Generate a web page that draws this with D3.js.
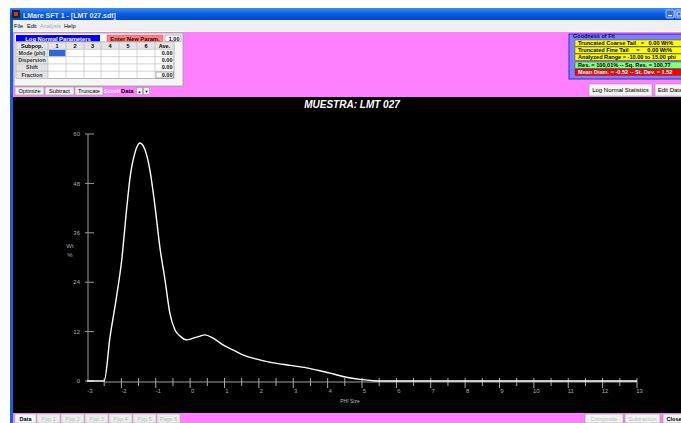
<!DOCTYPE html>
<html><head><meta charset="utf-8">
<script src="https://cdn.jsdelivr.net/npm/d3@7"></script>
<style>
html,body{margin:0;padding:0;background:#fff;overflow:hidden}
svg{display:block}
text{font-family:"Liberation Sans",Arial,sans-serif}
</style></head>
<body>
<script>
// ---- data ----
const phi = [-3, -2.5, -2.33, -2.14, -1.99, -1.85, -1.75, -1.6, -1.46, -1.31, -1.17, -1.02, -0.88, -0.73, -0.59, -0.44, -0.29, -0.1, 0.09, 0.29, 0.43, 0.67, 0.97, 1.26, 1.55, 1.94, 2.42, 2.91, 3.39, 3.78, 4.17, 4.55, 4.94, 5.33, 5.6, 13];
const wt  = [0, 0, 10.7, 20.5, 29.4, 41.5, 49.3, 55.6, 57.8, 56.1, 51.2, 42.3, 32.5, 24.5, 16.5, 12.4, 10.9, 10.0, 10.4, 10.9, 11.2, 10.4, 8.7, 7.5, 6.3, 5.3, 4.4, 3.8, 3.2, 2.5, 1.7, 0.9, 0.4, 0.07, 0, 0];
const yTicks = [0, 12, 24, 36, 48, 60];
const xMajor = [-3,-2,-1,0,1,2,3,4,5,6,7,8,9,10,11,12,13];
const xMinor = [-2.5,-1.5,-0.5,0.5,1.5,2.5,3.5,4.5,5.5,6.5,7.5,8.5,9.5,10.5,11.5,12.5];
const chartTitle = "MUESTRA: LMT 027";
const xLabel = "PHI Size";
const paramCols = ["Subpop.","1","2","3","4","5","6","Ave."];
const paramRows = ["Mode (phi)","Dispersion","Shift","Fraction"];
const paramAve = ["0.00","0.00","0.00","0.00"];
const fitRows = [
  {t:"Truncated Coarse Tail   =   0.00 Wt%", c:"#ffff00", f:"#000"},
  {t:"Truncated Fine Tail     =     0.00 Wt%", c:"#ffff00", f:"#000"},
  {t:"Analyzed Range = -10.00 to 15.00 phi", c:"#ffff00", f:"#000"},
  {t:"Res. = 100,01% -- Sq. Res. = 100,77", c:"#80ff80", f:"#000"},
  {t:"Mean Diam. = -0.52 -- St. Dev. = 1.52", c:"#ff0000", f:"#fff"}
];
const tabs = ["Data","Pop 1","Pop 2","Pop 3","Pop 4","Pop 5","Page 6"];
const menus = ["File","Edit","Analysis","Help"];

const W = 681, H = 423;
const svg = d3.select("body").append("svg").attr("width", W).attr("height", H);
const defs = svg.append("defs");
const g1 = defs.append("linearGradient").attr("id","tb").attr("x1",0).attr("y1",0).attr("x2",0).attr("y2",1);
g1.append("stop").attr("offset","0").attr("stop-color","#3a8cff");
g1.append("stop").attr("offset","0.5").attr("stop-color","#0a5ce0");
g1.append("stop").attr("offset","1").attr("stop-color","#0048c8");

// window frame
svg.append("rect").attr("x",0).attr("y",0).attr("width",W).attr("height",H).attr("fill","#fff");
svg.append("rect").attr("x",10).attr("y",8).attr("width",W-10).attr("height",H-8).attr("fill","#1f5fd8");
svg.append("rect").attr("x",10).attr("y",8).attr("width",W-10).attr("height",12).attr("fill","url(#tb)");
svg.append("rect").attr("x",12).attr("y",10).attr("width",8).attr("height",8).attr("fill","#222");
svg.append("rect").attr("x",14).attr("y",12).attr("width",4).attr("height",4).attr("fill","#c33");
svg.append("text").attr("x",23).attr("y",17.5).attr("font-size",7).attr("font-weight","bold").attr("fill","#dfe8ff").text("LMare SFT 1 - [LMT 027.sdt]");
[666,675].forEach(bx=>{
  svg.append("rect").attr("x",bx).attr("y",10).attr("width",8).attr("height",8).attr("rx",1).attr("fill","#2f6fe8").attr("stroke","#fff").attr("stroke-width",0.6);
});
svg.append("rect").attr("x",668).attr("y",15).attr("width",4).attr("height",1.2).attr("fill","#fff");
svg.append("rect").attr("x",677).attr("y",12).attr("width",4).attr("height",4).attr("fill","none").attr("stroke","#fff").attr("stroke-width",0.8);

// menu bar
svg.append("rect").attr("x",13).attr("y",20).attr("width",W-13).attr("height",11).attr("fill","#efefef");
const menuX = [14,27,40,64];
menus.forEach((m,i)=>{
  svg.append("text").attr("x",menuX[i]).attr("y",27.8).attr("font-size",5.6).attr("fill",i===2?"#aaa":"#000").text(m);
});

// pink area
svg.append("rect").attr("x",13).attr("y",31).attr("width",W-13).attr("height",H-31).attr("fill","#ff80ff");
svg.append("line").attr("x1",13).attr("x2",W).attr("y1",31.5).attr("y2",31.5).attr("stroke","#fff");

// parameter panel
const pp = svg.append("g");
pp.append("rect").attr("x",14).attr("y",33).attr("width",169).attr("height",53).attr("fill","#f6f6f6").attr("stroke","#999").attr("stroke-width",0.8);
pp.append("rect").attr("x",16).attr("y",35).attr("width",84).attr("height",6.5).attr("fill","#0000ff");
pp.append("text").attr("x",58).attr("y",40.5).attr("text-anchor","middle").attr("font-size",5.8).attr("font-weight","bold").attr("fill","#fff").text("Log Normal Parameters");
pp.append("rect").attr("x",107).attr("y",35).attr("width",56).attr("height",6.5).attr("fill","#ff8080").attr("stroke","#c44").attr("stroke-width",0.4);
pp.append("text").attr("x",135).attr("y",40.5).attr("text-anchor","middle").attr("font-size",5.8).attr("font-weight","bold").attr("fill","#400").text("Enter New Param.");
pp.append("rect").attr("x",165).attr("y",35).attr("width",16).attr("height",6.5).attr("fill","#fff").attr("stroke","#777").attr("stroke-width",0.5);
pp.append("text").attr("x",179.5).attr("y",40.5).attr("text-anchor","end").attr("font-size",5.5).attr("font-weight","bold").text("1.00");
const colX = [16,48,66,84,101,119,137,155,174];
const rowY = [42,49.3,56.6,63.9,71.2,78.5];
pp.append("rect").attr("x",16).attr("y",42).attr("width",158).attr("height",36.5).attr("fill","#fff").attr("stroke","#999").attr("stroke-width",0.5);
pp.append("rect").attr("x",16).attr("y",42).attr("width",32).attr("height",36.5).attr("fill","#e4e4e4");
pp.append("rect").attr("x",16).attr("y",42).attr("width",158).attr("height",7.3).attr("fill","#e4e4e4");
pp.append("rect").attr("x",49).attr("y",49.8).attr("width",16.5).attr("height",6.5).attr("fill","#3366dd");
colX.forEach(x=>pp.append("line").attr("x1",x).attr("x2",x).attr("y1",42).attr("y2",78.5).attr("stroke","#aaa").attr("stroke-width",0.5));
rowY.forEach(y=>pp.append("line").attr("x1",16).attr("x2",174).attr("y1",y).attr("y2",y).attr("stroke","#aaa").attr("stroke-width",0.5));
paramCols.forEach((c,i)=>{
  pp.append("text").attr("x",(colX[i]+colX[i+1])/2).attr("y",47.6).attr("text-anchor","middle").attr("font-size",5.5).attr("font-weight","bold").text(c);
});
paramRows.forEach((r,i)=>{
  pp.append("text").attr("x",32).attr("y",rowY[i+1]+5.5).attr("text-anchor","middle").attr("font-size",5.3).attr("font-weight","bold").attr("fill","#333").text(r);
  pp.append("text").attr("x",172.5).attr("y",rowY[i+1]+5.5).attr("text-anchor","end").attr("font-size",5.5).attr("font-weight","bold").text(paramAve[i]);
});
pp.append("rect").attr("x",156).attr("y",72).attr("width",17.5).attr("height",6).attr("fill","none").attr("stroke","#666").attr("stroke-width",0.5);

// buttons
function btn(x,y,w,h,t,opts={}){
  svg.append("rect").attr("x",x).attr("y",y).attr("width",w).attr("height",h).attr("fill",opts.fill||"#f0f0f0").attr("stroke",opts.stroke||"#999").attr("stroke-width",0.6);
  svg.append("text").attr("x",x+w/2).attr("y",y+h/2+2).attr("text-anchor","middle").attr("font-size",opts.fs||5.6).attr("font-weight",opts.bold?"bold":"normal").attr("fill",opts.color||"#000").text(t);
}
btn(15,87,29,8,"Optimize");
btn(45,87,29,8,"Subtract");
btn(75,87,28,8,"Truncate");
svg.append("text").attr("x",104).attr("y",93.2).attr("font-size",5.8).attr("font-weight","bold").attr("fill","#fff").text("Scroll");
svg.append("text").attr("x",121).attr("y",93.2).attr("font-size",5.8).attr("font-weight","bold").attr("fill","#000").text("Data");
btn(136.5,87.5,6,7,"▲",{fs:4});
btn(143.5,87.5,6,7,"▼",{fs:4});

// goodness of fit panel
svg.append("rect").attr("x",569).attr("y",34).attr("width",W-569+2).attr("height",45).attr("fill","#8080ff").attr("stroke","#3030c0").attr("stroke-width",1);
svg.append("text").attr("x",573).attr("y",37.5).attr("font-size",5.5).attr("font-weight","bold").attr("fill","#000060").text("Goodness of Fit");
const fitY = [40,47,54,62,69];
fitRows.forEach((r,i)=>{
  svg.append("rect").attr("x",575).attr("y",fitY[i]).attr("width",W-575+2).attr("height",6.4).attr("fill",r.c).attr("stroke","#333").attr("stroke-width",0.4);
  svg.append("text").attr("x",578).attr("y",fitY[i]+5.2).attr("font-size",5.6).attr("font-weight","bold").attr("fill",r.f).attr("xml:space","preserve").text(r.t);
});
btn(589,84,63,12,"Log Normal Statistics",{fs:6,fill:"#f4f4f4"});
btn(655,84,30,12,"Edit Data",{fs:6,fill:"#f4f4f4"});

// chart area
svg.append("rect").attr("x",13).attr("y",97).attr("width",W-13).attr("height",316).attr("fill","#000");

const x = d3.scaleLinear().domain([-3,13]).range([87,637]);
const y = d3.scaleLinear().domain([0,60]).range([381,134]);

// y axis
const ya = svg.append("g");
ya.append("line").attr("x1",x(-3)+1).attr("x2",x(-3)+1).attr("y1",y(60)).attr("y2",y(0)).attr("stroke","#9a9a9a").attr("stroke-width",1);
ya.selectAll("line.t").data(yTicks).join("line").attr("class","t")
  .attr("x1",x(-3)-2).attr("x2",x(-3)+7).attr("y1",d=>y(d)).attr("y2",d=>y(d)).attr("stroke","#9a9a9a");
ya.selectAll("text").data(yTicks).join("text")
  .attr("x",x(-3)-7).attr("y",d=>y(d)+2.2).attr("text-anchor","end").attr("font-size",6).attr("fill","#aaa").text(d=>d);
svg.append("text").attr("x",70).attr("y",248).attr("text-anchor","middle").attr("font-size",6).attr("fill","#aaa").text("Wt");
svg.append("text").attr("x",70).attr("y",257).attr("text-anchor","middle").attr("font-size",6).attr("fill","#aaa").text("%");

// x axis
const xa = svg.append("g");
const y0 = y(0)+1;
xa.append("line").attr("x1",x(-2.5)).attr("x2",x(13)).attr("y1",y0).attr("y2",y0).attr("stroke","#a0a0a0").attr("stroke-width",1.2);
xa.selectAll("line.mi").data(xMinor).join("line").attr("class","mi")
  .attr("x1",d=>x(d)).attr("x2",d=>x(d)).attr("y1",y0-4).attr("y2",y0+4).attr("stroke","#aaa");
xa.selectAll("line.ma").data(xMajor.filter(d=>d>-3)).join("line").attr("class","ma")
  .attr("x1",d=>x(d)).attr("x2",d=>x(d)).attr("y1",y0-4).attr("y2",y0+6).attr("stroke","#aaa");
xa.selectAll("text").data(xMajor).join("text")
  .attr("x",d=>x(d)+(d===-3?3:2.5)).attr("y",y0+11).attr("text-anchor","middle").attr("font-size",6).attr("fill","#aaa").text(d=>d);
svg.append("text").attr("x",350).attr("y",403).attr("text-anchor","middle").attr("font-size",5).attr("fill","#bbb").text(xLabel);

// curve
const line = d3.line().x((d,i)=>x(phi[i])).y(d=>y(d)).curve(d3.curveMonotoneX);
svg.append("path").attr("d",line(wt)).attr("fill","none").attr("stroke","#fff").attr("stroke-width",1.4);

// title
svg.append("text").attr("x",352).attr("y",108).attr("text-anchor","middle").attr("font-size",10).attr("font-weight","bold").attr("font-style","italic").attr("fill","#fff").text(chartTitle);

// bottom strip
let tx = 15;
const tabW = [21,23,23,23,23,23,23];
tabs.forEach((t,i)=>{
  svg.append("rect").attr("x",tx).attr("y",414).attr("width",tabW[i]).attr("height",9).attr("fill",i===0?"#f6f6f6":"#ececec").attr("stroke","#aaa").attr("stroke-width",0.5);
  svg.append("text").attr("x",tx+tabW[i]/2).attr("y",420.5).attr("text-anchor","middle").attr("font-size",5.5).attr("font-weight",i===0?"bold":"normal").attr("fill",i===0?"#000":"#bbb").text(t);
  tx += tabW[i]+1;
});
btn(585,414,38,9,"Composite",{color:"#bbb",fill:"#f2f2f2"});
btn(625,414,35,9,"Subtraction",{color:"#bbb",fill:"#f2f2f2"});
btn(663,414,22,9,"Close",{bold:true,fill:"#f2f2f2"});
</script>
</body></html>
